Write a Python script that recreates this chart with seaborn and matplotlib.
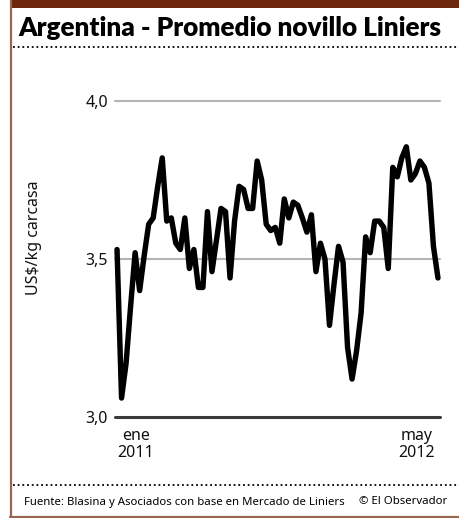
import matplotlib
matplotlib.use("Agg")
import matplotlib.pyplot as plt
from matplotlib.lines import Line2D
from matplotlib.patches import Rectangle
import seaborn as sns
import pandas as pd
import numpy as np

# ---- data (weekly averages, US$/kg carcasa) ----
week = list(range(72))
precio = [3.53, 3.06, 3.17, 3.35, 3.52, 3.40, 3.51, 3.61, 3.63, 3.73,
          3.82, 3.62, 3.63, 3.55, 3.53, 3.63, 3.47, 3.53, 3.41, 3.41,
          3.65, 3.46, 3.56, 3.66, 3.65, 3.44, 3.62, 3.73, 3.72, 3.66,
          3.66, 3.81, 3.75, 3.61, 3.59, 3.60, 3.55, 3.69, 3.63, 3.68,
          3.67, 3.63, 3.585, 3.64, 3.46, 3.55, 3.50, 3.29, 3.42, 3.54,
          3.49, 3.22, 3.12, 3.21, 3.33, 3.57, 3.52, 3.62, 3.62, 3.60,
          3.47, 3.79, 3.76, 3.82, 3.855, 3.75, 3.77, 3.81, 3.79, 3.74,
          3.54, 3.44]
xtick_pos = [4.2, 66.2]
xtick_labels = ["ene\n2011", "may\n2012"]
ytick_vals = [3.0, 3.5, 4.0]
ytick_labels = ["3,0", "3,5", "4,0"]
title = "Argentina - Promedio novillo Liniers"
ylabel = "US$/kg carcasa"
fuente = "Fuente: Blasina y Asociados con base en Mercado de Liniers"
credito = "© El Observador"

df = pd.DataFrame({"week": week, "precio": precio})

sns.set_theme(style="white")
plt.rcParams["font.family"] = ["Noto Sans", "DejaVu Sans"]

W, H = 459, 518
fig = plt.figure(figsize=(W / 100, H / 100), dpi=100)
fig.patch.set_facecolor("white")

def fx(px):
    return px / W

def fy(py):
    return 1 - py / H

# frame decorations
brown_dark = "#6B260B"
brown_line = "#9A6650"
fig.add_artist(Rectangle((fx(10), fy(8)), fx(459 - 10), 8 / H, transform=fig.transFigure,
                         facecolor=brown_dark, edgecolor="none"))
fig.add_artist(Line2D([fx(10.5), fx(10.5)], [fy(0), fy(516.5)], transform=fig.transFigure,
                      color=brown_line, lw=1.6))
fig.add_artist(Line2D([fx(10), fx(459)], [fy(516.5), fy(516.5)], transform=fig.transFigure,
                      color=brown_line, lw=1.6))
# dotted separators
for yy in (47, 485):
    fig.add_artist(Line2D([fx(13), fx(459)], [fy(yy), fy(yy)], transform=fig.transFigure,
                          color="black", lw=1.3, linestyle=(0, (1.0, 1.6))))

fig.text(fx(18), fy(36), title, fontsize=18.8, fontweight="heavy", family=["Lato", "DejaVu Sans"],
         ha="left", va="baseline", color="black")

# axes
ax = fig.add_axes([fx(115), fy(417), fx(440) - fx(115), (417 - 101) / H])
sns.lineplot(data=df, x="week", y="precio", ax=ax, color="black", lw=3.9,
             solid_joinstyle="round", solid_capstyle="round", clip_on=False, zorder=5)
ax.set_xlim(-0.45, 71.45)
ax.set_ylim(3.0, 4.0)
for s in ax.spines.values():
    s.set_visible(False)
ax.axhline(4.0, color="#B4B4B4", lw=1.5, zorder=1, clip_on=False)
ax.axhline(3.5, color="#B4B4B4", lw=1.5, zorder=1, clip_on=False)
ax.axhline(3.0, color="#3A3A3A", lw=2.2, zorder=6, clip_on=False)
ax.set_yticks(ytick_vals)
ax.set_yticklabels(ytick_labels)
ax.set_xticks(xtick_pos)
ax.set_xticklabels(xtick_labels, linespacing=1.1)
ax.tick_params(axis="y", length=0, pad=5, labelsize=11.5, colors="#111111")
ax.tick_params(axis="x", length=0, pad=8, labelsize=11.5, colors="#111111")
ax.set_xlabel("")
ax.set_ylabel("")
ax.grid(False)

fig.text(fx(34), fy(238), ylabel, rotation=90, fontsize=11.5, ha="center", va="center",
         color="#111111")

fig.text(fx(24), fy(502), fuente, fontsize=8.2, ha="left", va="center", color="black")
fig.text(fx(447), fy(502), credito, fontsize=8.2, ha="right", va="center", color="black")

fig.savefig("out.png", dpi=100)
